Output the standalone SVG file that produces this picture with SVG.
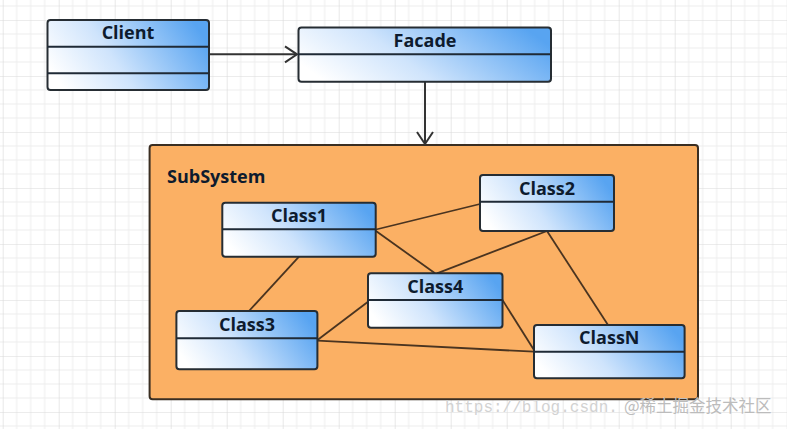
<svg xmlns="http://www.w3.org/2000/svg" width="787" height="429" viewBox="0 0 787 429">
<style>
.box{fill:url(#blue);stroke:#262d33;stroke-width:2}
.div{stroke:#1f2a36;stroke-width:2}
.lbl{font-family:"Open Sans","Liberation Sans",sans-serif;font-weight:700;font-size:18px;fill:#0d1b2e;text-anchor:middle}
.sub{font-family:"Open Sans","Liberation Sans",sans-serif;font-weight:700;font-size:18px;fill:#0d1b2e}
.ext{stroke:#333;stroke-width:2;fill:none}
.int{stroke:#4a3420;stroke-width:1.8;fill:none}
</style>
<defs>
<pattern id="grid" patternUnits="userSpaceOnUse" x="2.7" y="20" width="56" height="56">
<path d="M14,0V56M28,0V56M42,0V56M0,14H56M0,28H56M0,42H56" stroke="#ededed" stroke-width="1" fill="none"/>
<path d="M0,0V56M0,0H56" stroke="#d9d9d9" stroke-width="1.2" fill="none"/>
</pattern>
<linearGradient id="blue" x1="0" y1="0.65" x2="1" y2="0.35">
<stop offset="0" stop-color="#ffffff"/>
<stop offset="0.4" stop-color="#cfe4fc"/>
<stop offset="1" stop-color="#58a4f1"/>
</linearGradient>
<marker id="arr" markerUnits="userSpaceOnUse" markerWidth="16" markerHeight="20" refX="13" refY="9" orient="auto">
<path d="M1,1 L13,9 L1,17" fill="none" stroke="#333" stroke-width="2"/>
</marker>
</defs>
<rect width="787" height="429" fill="#ffffff"/>
<rect width="787" height="429" fill="url(#grid)"/>

<g id="subsystem">
<rect x="149.6" y="145" width="548.4" height="254.3" rx="3" fill="#fbb064" stroke="#3a2e22" stroke-width="2"/>
<text class="sub" x="167" y="183.3">SubSystem</text>
</g>

<g id="connectors">
<line class="ext" x1="209" y1="54.3" x2="297" y2="54.3" marker-end="url(#arr)"/>
<line class="ext" x1="425" y1="81.7" x2="425" y2="144" marker-end="url(#arr)"/>
<line class="int" x1="376" y1="229.5" x2="480" y2="204"/>
<line class="int" x1="376" y1="231" x2="435" y2="273.3"/>
<line class="int" x1="547" y1="231" x2="437" y2="273.3"/>
<line class="int" x1="547" y1="231" x2="608" y2="325"/>
<line class="int" x1="299" y1="256.7" x2="249" y2="311"/>
<line class="int" x1="317.5" y1="340" x2="368" y2="301.7"/>
<line class="int" x1="317.5" y1="340.7" x2="534" y2="351.7"/>
<line class="int" x1="502.5" y1="300" x2="534" y2="350"/>
</g>

<g id="client">
<rect class="box" x="47.5" y="20" width="161.5" height="70" rx="3"/>
<line class="div" x1="47.5" y1="46.7" x2="209" y2="46.7"/>
<line class="div" x1="47.5" y1="73.3" x2="209" y2="73.3"/>
<text class="lbl" x="128" y="39.3">Client</text>
</g>

<g id="facade">
<rect class="box" x="298.5" y="27.5" width="252.5" height="54.2" rx="3"/>
<line class="div" x1="298.5" y1="54.3" x2="551" y2="54.3"/>
<text class="lbl" x="425" y="46.7">Facade</text>
</g>

<g id="class1">
<rect class="box" x="222.3" y="202.7" width="153.4" height="54" rx="3"/>
<line class="div" x1="222.3" y1="229.3" x2="375.7" y2="229.3"/>
<text class="lbl" x="299" y="222.3">Class1</text>
</g>

<g id="class2">
<rect class="box" x="480" y="175" width="134" height="56" rx="3"/>
<line class="div" x1="480" y1="201.7" x2="614" y2="201.7"/>
<text class="lbl" x="547" y="195">Class2</text>
</g>

<g id="class3">
<rect class="box" x="176.4" y="311" width="141" height="58.3" rx="3"/>
<line class="div" x1="176.4" y1="338.3" x2="317.4" y2="338.3"/>
<text class="lbl" x="247" y="331">Class3</text>
</g>

<g id="class4">
<rect class="box" x="368" y="273.3" width="134.5" height="54.4" rx="3"/>
<line class="div" x1="368" y1="300" x2="502.5" y2="300"/>
<text class="lbl" x="435.3" y="293.3">Class4</text>
</g>

<g id="classN">
<rect class="box" x="534" y="325" width="150.6" height="53.3" rx="3"/>
<line class="div" x1="534" y1="351.7" x2="684.6" y2="351.7"/>
<text class="lbl" x="609.3" y="344.3">ClassN</text>
</g>

<g id="watermark">
<text x="445" y="412" font-family="'Liberation Mono',monospace" font-size="16" fill="#d2d2d2">https://blog.csdn.</text>
<text x="624" y="412" font-family="'Noto Sans CJK SC','Noto Sans',sans-serif" font-size="16.5" fill="#bcbcbc">@稀土掘金技术社区</text>
</g>
</svg>
